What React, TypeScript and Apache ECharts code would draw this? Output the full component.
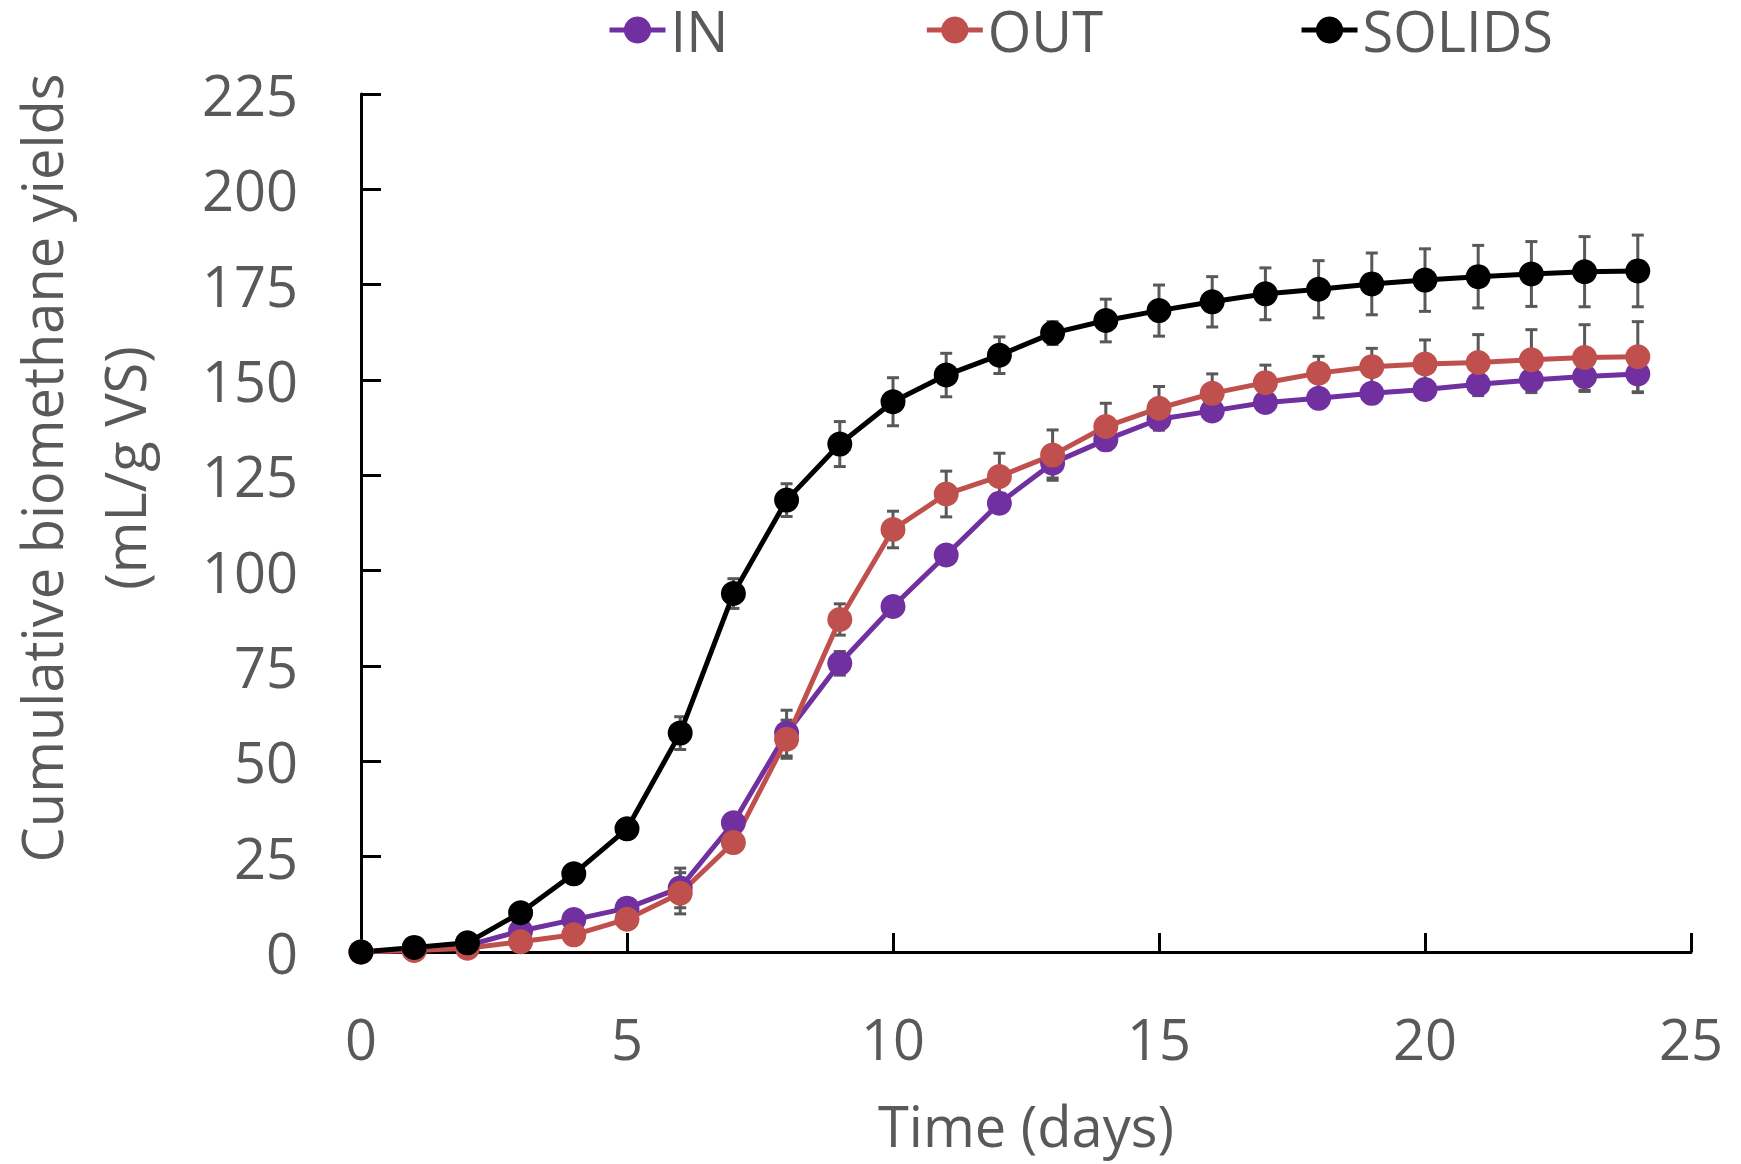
import React, { useEffect, useRef } from "react";
import * as echarts from "echarts";

const days = [0, 1, 2, 3, 4, 5, 6, 7, 8, 9, 10, 11, 12, 13, 14, 15, 16, 17, 18, 19, 20, 21, 22, 23, 24];
const inValues = [0, 0.6, 1.7, 5.5, 8.5, 11.5, 16.8, 33.9, 57.4, 75.7, 90.6, 104.1, 117.7, 128.2, 134.3, 139.7, 141.9, 144.1, 145.2, 146.5, 147.5, 148.9, 150.0, 150.9, 151.6];
const outValues = [0, 0.4, 1.0, 2.7, 4.5, 8.6, 15.4, 28.7, 55.8, 87.2, 110.8, 120.1, 124.7, 130.3, 137.8, 142.6, 146.5, 149.3, 151.8, 153.5, 154.2, 154.6, 155.3, 155.9, 156.1];
const solidsValues = [0, 1.2, 2.4, 10.3, 20.5, 32.3, 57.4, 94.0, 118.5, 133.2, 144.3, 151.3, 156.5, 162.3, 165.6, 168.2, 170.5, 172.6, 173.8, 175.2, 176.2, 177.1, 177.8, 178.4, 178.6];
const inErrors = [0, 0, 0, 0.5, 0.5, 0.5, 5.2, 1.5, 6.0, 3.1, 1.5, 1.5, 2.5, 3.9, 2.0, 2.8, 2.0, 2.0, 2.0, 2.5, 2.5, 3.0, 3.3, 3.9, 4.9];
const outErrors = [0, 0, 0, 0.5, 0.5, 1.0, 5.4, 1.5, 5.0, 4.1, 4.8, 6.0, 6.1, 6.6, 6.1, 5.7, 5.1, 4.6, 4.4, 4.8, 6.3, 7.3, 7.9, 8.6, 9.2];
const solidsErrors = [0, 0, 0, 0.5, 0.5, 0.5, 4.3, 3.9, 4.3, 5.9, 6.3, 5.7, 4.8, 3.0, 5.6, 6.7, 6.6, 6.8, 7.5, 8.1, 8.2, 8.2, 8.5, 9.2, 9.4];
const seriesNames = ["IN", "OUT", "SOLIDS"];
const seriesColors = ["#7030A0", "#C0504D", "#000000"];
const xTitle = "Time (days)";
const yTitleLines = ["Cumulative biomethane yields", "(mL/g VS)"];

const FONT = "'Open Sans', sans-serif";
const GREY = "#595959";

function errorSeries(name: string, values: number[], errors: number[]) {
  return {
    type: "custom",
    name: name + " error",
    z: 1,
    silent: true,
    encode: { x: 0, y: [1, 2] },
    data: days.map((d, i) => [d, values[i] - errors[i], values[i] + errors[i]]),
    renderItem: (params: any, api: any) => {
      const x = api.value(0);
      const lo = api.coord([x, api.value(1)]);
      const hi = api.coord([x, api.value(2)]);
      const hw = 6;
      const style = { stroke: GREY, lineWidth: 3 };
      return {
        type: "group",
        children: [
          { type: "line", shape: { x1: lo[0], y1: lo[1], x2: hi[0], y2: hi[1] }, style },
          { type: "line", shape: { x1: lo[0] - hw, y1: lo[1], x2: lo[0] + hw, y2: lo[1] }, style },
          { type: "line", shape: { x1: hi[0] - hw, y1: hi[1], x2: hi[0] + hw, y2: hi[1] }, style },
        ],
      };
    },
  };
}

function lineSeries(name: string, values: number[], color: string) {
  return {
    type: "line",
    name,
    z: 3,
    data: days.map((d, i) => [d, values[i]]),
    symbol: "circle",
    symbolSize: 25,
    showSymbol: true,
    lineStyle: { color, width: 5 },
    itemStyle: { color },
  };
}

export default function App() {
  const ref = useRef<HTMLDivElement>(null);
  useEffect(() => {
    if (!ref.current) return;
    const chart = echarts.init(ref.current, undefined, { renderer: "svg" });
    const valuesList = [inValues, outValues, solidsValues];
    const errList = [inErrors, outErrors, solidsErrors];
    chart.setOption({
      animation: false,
      backgroundColor: "#ffffff",
      textStyle: { fontFamily: FONT },
      grid: { left: 361, right: 50, top: 94, bottom: 212, containLabel: false },
      legend: {
        data: seriesNames,
        left: 607,
        top: 0,
        padding: 0,
        itemGap: 196,
        itemWidth: 56,
        itemHeight: 34,
        lineStyle: { width: 5 },
        textStyle: {
          fontSize: 56,
          color: GREY,
          fontFamily: FONT,
          lineHeight: 60,
        },
      },
      xAxis: {
        type: "value",
        min: 0,
        max: 25,
        interval: 5,
        name: xTitle,
        nameLocation: "middle",
        nameGap: 145,
        nameTextStyle: { fontSize: 56, color: GREY, fontFamily: FONT },
        axisLine: { show: true, onZero: false, lineStyle: { color: "#000", width: 3 } },
        axisTick: { show: true, inside: true, length: 19, lineStyle: { color: "#000", width: 3 } },
        axisLabel: { fontSize: 56, color: GREY, margin: 58, fontFamily: FONT },
        splitLine: { show: false },
      },
      yAxis: {
        type: "value",
        min: 0,
        max: 225,
        interval: 25,
        axisLine: { show: true, lineStyle: { color: "#000", width: 3 } },
        axisTick: { show: true, inside: true, length: 20, lineStyle: { color: "#000", width: 3 } },
        axisLabel: { fontSize: 56, color: GREY, margin: 63, fontFamily: FONT },
        splitLine: { show: false },
      },
      graphic: yTitleLines.map((t, i) => ({
        type: "text",
        x: 41 + i * 83,
        y: 468,
        rotation: Math.PI / 2,
        style: {
          text: t,
          fontSize: 56,
          fontFamily: FONT,
          fill: GREY,
          align: "center",
          verticalAlign: "middle",
        },
      })),
      series: [
        ...seriesNames.map((n, i) => errorSeries(n, valuesList[i], errList[i])),
        ...seriesNames.map((n, i) => lineSeries(n, valuesList[i], seriesColors[i])),
      ],
    });
    return () => chart.dispose();
  }, []);
  return (
    <div
      ref={ref}
      style={{ position: "fixed", left: 0, top: 0, width: 1741, height: 1164 }}
    />
  );
}
